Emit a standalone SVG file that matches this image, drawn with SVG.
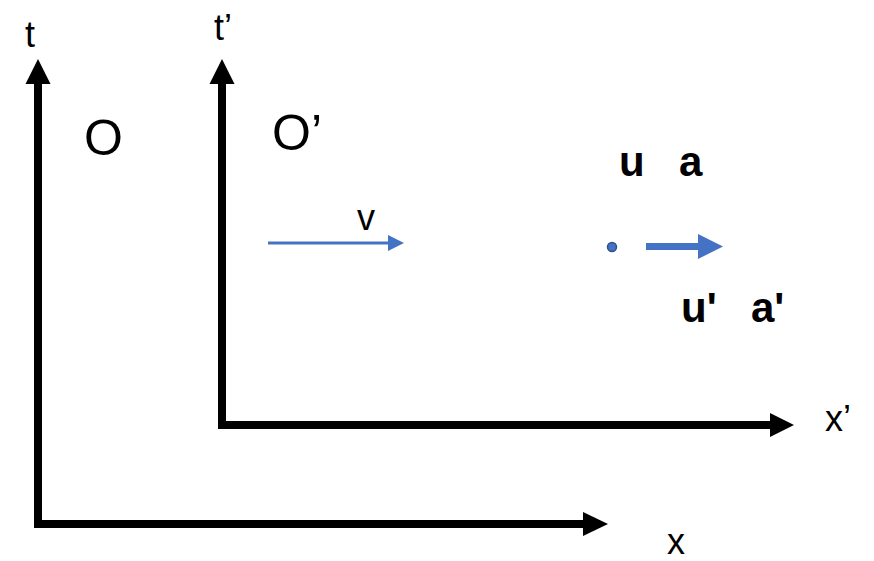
<svg xmlns="http://www.w3.org/2000/svg" width="874" height="561" viewBox="0 0 874 561">
<style>
.lbl{font-family:"Liberation Sans",Arial,sans-serif;fill:#000}
.ax{font-size:36px}
.big{font-size:50px}
.bold{font-size:42px;font-weight:bold}
.axis{stroke:#000;stroke-width:8;fill:none;stroke-linecap:square}
.head{fill:#000}
.blue{fill:#4472C4}
</style>
<rect width="874" height="561" fill="#fff"/>
<g id="connectors">
  <path class="axis" d="M38,85 V524 H580"/>
  <polygon class="head" points="38,59 25.5,84 50.5,84"/>
  <polygon class="head" points="608,524 583,512 583,536"/>
  <path class="axis" d="M222,85 V425 H768"/>
  <polygon class="head" points="222,59 209.5,84 234.5,84"/>
  <polygon class="head" points="794,425 770,413 770,437"/>
  <line x1="268" y1="243" x2="390" y2="243" stroke="#4472C4" stroke-width="3"/>
  <polygon class="blue" points="404,243 388,235 388,251"/>
  <line x1="646" y1="246.5" x2="700" y2="246.5" stroke="#4472C4" stroke-width="7"/>
  <polygon class="blue" points="723,246.5 698,234 698,259"/>
</g>
<g id="node-t"><text class="lbl ax" x="25" y="47">t</text></g>
<g id="node-tp"><text class="lbl ax" x="214" y="40">t’</text></g>
<g id="node-O"><text class="lbl big" x="84" y="155">O</text></g>
<g id="node-Op"><text class="lbl big" x="272" y="150">O’</text></g>
<g id="node-v"><text class="lbl ax" x="357" y="230">v</text></g>
<g id="node-particle"><circle cx="612" cy="247" r="4.5" fill="#4472C4" stroke="#2F528F" stroke-width="1.5"/></g>
<g id="node-ua"><text class="lbl bold" x="619" y="176">u</text><text class="lbl bold" x="679" y="176">a</text></g>
<g id="node-upap"><text class="lbl bold" x="681" y="322">u'</text><text class="lbl bold" x="751" y="322">a'</text></g>
<g id="node-xp"><text class="lbl ax" x="825" y="431">x’</text></g>
<g id="node-x"><text class="lbl ax" x="667" y="554">x</text></g>
</svg>
